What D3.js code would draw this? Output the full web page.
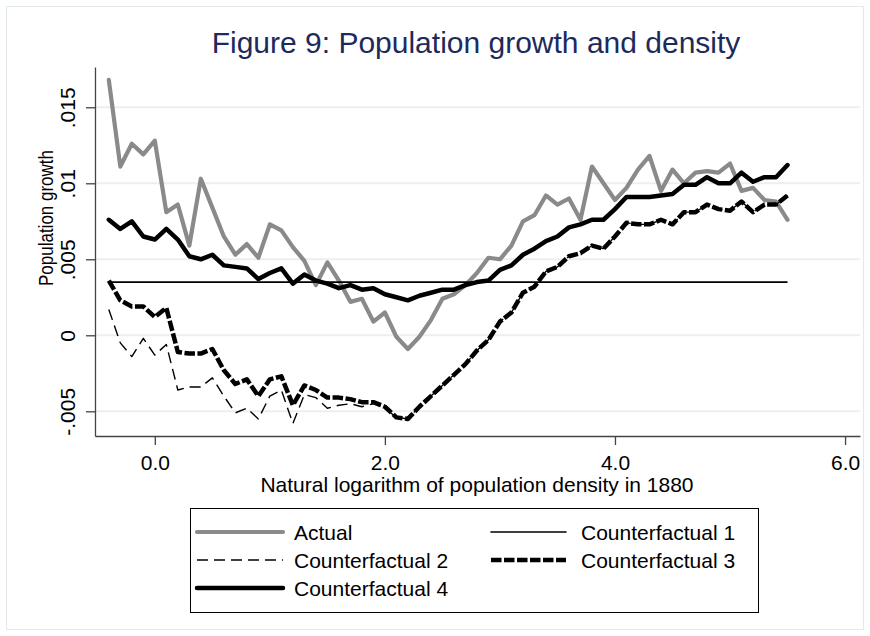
<!DOCTYPE html>
<html>
<head>
<meta charset="utf-8">
<title>Figure 9</title>
<script src="https://d3js.org/d3.v7.min.js"></script>
<style>
  body { margin: 0; background: #fff; }
  svg text { font-family: "Liberation Sans", Arial, sans-serif; }
</style>
</head>
<body>
<svg id="chart" width="870" height="636"></svg>
<script>
// data
const xVals = [-0.4, -0.3, -0.2, -0.1, 0.0, 0.1, 0.2, 0.3, 0.4, 0.5,
               0.6, 0.7, 0.8, 0.9, 1.0, 1.1, 1.2, 1.3, 1.4, 1.5,
               1.6, 1.7, 1.8, 1.9, 2.0, 2.1, 2.2, 2.3, 2.4, 2.5,
               2.6, 2.7, 2.8, 2.9, 3.0, 3.1, 3.2, 3.3, 3.4, 3.5,
               3.6, 3.7, 3.8, 3.9, 4.0, 4.1, 4.2, 4.3, 4.4, 4.5,
               4.6, 4.7, 4.8, 4.9, 5.0, 5.1, 5.2, 5.3, 5.4, 5.5];

const actual = [0.0168, 0.0111, 0.0126, 0.0119, 0.0128, 0.0081, 0.0086, 0.0059, 0.0103, 0.0084,
                0.0065, 0.0053, 0.0060, 0.0051, 0.0073, 0.0069, 0.0058, 0.0049, 0.0033, 0.0048,
                0.0036, 0.0022, 0.0024, 0.0009, 0.0015, -0.0001, -0.0009, -0.0001, 0.0010, 0.0024,
                0.0027, 0.0033, 0.0041, 0.0051, 0.0050, 0.0059, 0.0075, 0.0079, 0.0092, 0.0086,
                0.0090, 0.0076, 0.0111, 0.0100, 0.0089, 0.0097, 0.0109, 0.0118, 0.0095, 0.0109,
                0.0100, 0.0107, 0.0108, 0.0107, 0.0113, 0.0095, 0.0097, 0.0089, 0.0088, 0.0076];

const cf1Level = 0.0035;

const cf2 = [0.0017, -0.0005, -0.0014, -0.0002, -0.0013, -0.0006, -0.0036, -0.0034, -0.0034, -0.0028,
             -0.0040, -0.0051, -0.0048, -0.0055, -0.0040, -0.0036, -0.0058, -0.0039, -0.0041, -0.0048,
             -0.0046, -0.0045, -0.0047, -0.0045, -0.0048, -0.0054, -0.0055, -0.0047, -0.0040, -0.0033,
             -0.0026, -0.0019, -0.0010, -0.0003, 0.0009, 0.0015, 0.0028, 0.0032, 0.0042, 0.0045,
             0.0052, 0.0054, 0.0059, 0.0057, 0.0065, 0.0074, 0.0073, 0.0073, 0.0076, 0.0073,
             0.0081, 0.0081, 0.0086, 0.0083, 0.0082, 0.0088, 0.0081, 0.0086, 0.0086, 0.0092];

const cf3 = [0.0036, 0.0023, 0.0019, 0.0019, 0.0012, 0.0018, -0.0011, -0.0012, -0.0012, -0.0009,
             -0.0023, -0.0032, -0.0029, -0.0040, -0.0029, -0.0027, -0.0046, -0.0033, -0.0036, -0.0041,
             -0.0041, -0.0042, -0.0044, -0.0044, -0.0047, -0.0054, -0.0055, -0.0047, -0.0040, -0.0033,
             -0.0026, -0.0019, -0.0010, -0.0003, 0.0009, 0.0015, 0.0028, 0.0032, 0.0042, 0.0045,
             0.0052, 0.0054, 0.0059, 0.0057, 0.0065, 0.0074, 0.0073, 0.0073, 0.0076, 0.0073,
             0.0081, 0.0081, 0.0086, 0.0083, 0.0082, 0.0088, 0.0081, 0.0086, 0.0086, 0.0092];

const cf4 = [0.0076, 0.0070, 0.0075, 0.0065, 0.0063, 0.0070, 0.0063, 0.0052, 0.0050, 0.0053,
             0.0046, 0.0045, 0.0044, 0.0037, 0.0041, 0.0044, 0.0034, 0.0040, 0.0036, 0.0034,
             0.0031, 0.0033, 0.0030, 0.0031, 0.0027, 0.0025, 0.0023, 0.0026, 0.0028, 0.0030,
             0.0030, 0.0033, 0.0035, 0.0036, 0.0043, 0.0046, 0.0053, 0.0057, 0.0062, 0.0065,
             0.0071, 0.0073, 0.0076, 0.0076, 0.0083, 0.0091, 0.0091, 0.0091, 0.0092, 0.0093,
             0.0099, 0.0099, 0.0104, 0.0100, 0.0100, 0.0107, 0.0101, 0.0104, 0.0104, 0.0112];

const xTicks = [0, 2, 4, 6];
const xTickLabels = ["0.0", "2.0", "4.0", "6.0"];
const yTicks = [-0.005, 0, 0.005, 0.01, 0.015];
const yTickLabels = ["-.005", "0", ".005", ".01", ".015"];

const legendNames = ["Actual", "Counterfactual 1", "Counterfactual 2", "Counterfactual 3", "Counterfactual 4"];

const svg = d3.select("#chart");
const plot = {left: 95, right: 860, top: 67, bottom: 436};

// outer frame
svg.append("rect")
    .attr("x", 6.5).attr("y", 6.5)
    .attr("width", 857).attr("height", 623)
    .attr("fill", "#fff")
    .attr("stroke", "#e2e9ec");

const xScale = d3.scaleLinear().domain([-0.52, 6.13]).range([plot.left, plot.right]);
const yScale = d3.scaleLinear().domain([-0.006625, 0.01765]).range([plot.bottom, plot.top]);

// gridlines
svg.append("g")
    .selectAll("line")
    .data(yTicks)
    .join("line")
    .attr("x1", plot.left + 1).attr("x2", plot.right)
    .attr("y1", d => yScale(d)).attr("y2", d => yScale(d))
    .attr("stroke", "#e8f0f2")
    .attr("stroke-width", 2);

// y axis
const yAxis = svg.append("g")
    .attr("transform", `translate(${plot.left},0)`)
    .call(d3.axisLeft(yScale).tickValues(yTicks).tickSize(9).tickSizeOuter(0)
        .tickFormat((d, i) => yTickLabels[i]));
yAxis.select(".domain").attr("stroke", "#444").attr("stroke-width", 1.3);
yAxis.selectAll(".tick line").attr("stroke", "#444").attr("stroke-width", 1.3);
yAxis.selectAll(".tick text")
    .attr("transform", "rotate(-90)")
    .attr("x", 0).attr("y", -20).attr("dy", 0)
    .attr("text-anchor", "middle")
    .attr("font-size", 21).attr("fill", "#000");

// x axis
const xAxis = svg.append("g")
    .attr("transform", `translate(0,${plot.bottom})`)
    .call(d3.axisBottom(xScale).tickValues(xTicks).tickSize(9).tickSizeOuter(0).tickPadding(10)
        .tickFormat((d, i) => xTickLabels[i]));
xAxis.select(".domain").attr("stroke", "#444").attr("stroke-width", 1.3);
xAxis.selectAll(".tick line").attr("stroke", "#444").attr("stroke-width", 1.3);
xAxis.selectAll(".tick text").attr("font-size", 21).attr("fill", "#000");

// titles
svg.append("text")
    .attr("x", 476).attr("y", 53)
    .attr("text-anchor", "middle")
    .attr("font-size", 30)
    .attr("fill", "#1c2a5c")
    .text("Figure 9: Population growth and density");

svg.append("text")
    .attr("x", 477).attr("y", 492)
    .attr("text-anchor", "middle")
    .attr("font-size", 21)
    .text("Natural logarithm of population density in 1880");

svg.append("text")
    .attr("transform", "translate(53,218) rotate(-90)")
    .attr("text-anchor", "middle")
    .attr("font-size", 21)
    .attr("textLength", 136)
    .attr("lengthAdjust", "spacingAndGlyphs")
    .text("Population growth");

// series
const styles = {
  actual: {stroke: "#8a8a8a", width: 4.2, dash: null},
  cf1: {stroke: "#000", width: 1.6, dash: null},
  cf2: {stroke: "#000", width: 1.4, dash: "11,6"},
  cf3: {stroke: "#000", width: 4.5, dash: "10.5,2.5"},
  cf4: {stroke: "#000", width: 4.5, dash: null}
};

const line = d3.line().x(d => xScale(d[0])).y(d => yScale(d[1]));
const chart = svg.append("g");

function drawSeries(values, st) {
  chart.append("path")
      .datum(xVals.map((x, i) => [x, values[i]]))
      .attr("fill", "none")
      .attr("stroke", st.stroke)
      .attr("stroke-width", st.width)
      .attr("stroke-linejoin", "round")
      .attr("stroke-linecap", st.dash ? "butt" : "round")
      .attr("stroke-dasharray", st.dash)
      .attr("d", line);
}

drawSeries(actual, styles.actual);
chart.append("line")
    .attr("x1", xScale(xVals[0])).attr("x2", xScale(xVals[xVals.length - 1]))
    .attr("y1", yScale(cf1Level)).attr("y2", yScale(cf1Level))
    .attr("stroke", styles.cf1.stroke)
    .attr("stroke-width", styles.cf1.width);
drawSeries(cf2, styles.cf2);
drawSeries(cf3, styles.cf3);
drawSeries(cf4, styles.cf4);

// legend
const legend = svg.append("g");
legend.append("rect")
    .attr("x", 190.5).attr("y", 508.5)
    .attr("width", 568).attr("height", 104)
    .attr("fill", "#fff")
    .attr("stroke", "#000");

const legendItems = [
  {name: legendNames[0], st: styles.actual, col: 0, row: 0},
  {name: legendNames[1], st: styles.cf1, col: 1, row: 0},
  {name: legendNames[2], st: styles.cf2, col: 0, row: 1},
  {name: legendNames[3], st: styles.cf3, col: 1, row: 1},
  {name: legendNames[4], st: styles.cf4, col: 0, row: 2}
];
const colKey = [[197, 283], [491, 566]];
const colText = [294, 581];
const rowY = [532, 560, 588];

const items = legend.selectAll("g.item")
    .data(legendItems)
    .join("g")
    .attr("class", "item");
items.append("line")
    .attr("x1", d => colKey[d.col][0]).attr("x2", d => colKey[d.col][1])
    .attr("y1", d => rowY[d.row]).attr("y2", d => rowY[d.row])
    .attr("stroke", d => d.st.stroke)
    .attr("stroke-width", d => d.st.width)
    .attr("stroke-linecap", d => d.st.dash ? "butt" : "round")
    .attr("stroke-dasharray", d => d.st.dash);
items.append("text")
    .attr("x", d => colText[d.col])
    .attr("y", d => rowY[d.row] + 7.5)
    .attr("font-size", 21)
    .text(d => d.name);
</script>
</body>
</html>
